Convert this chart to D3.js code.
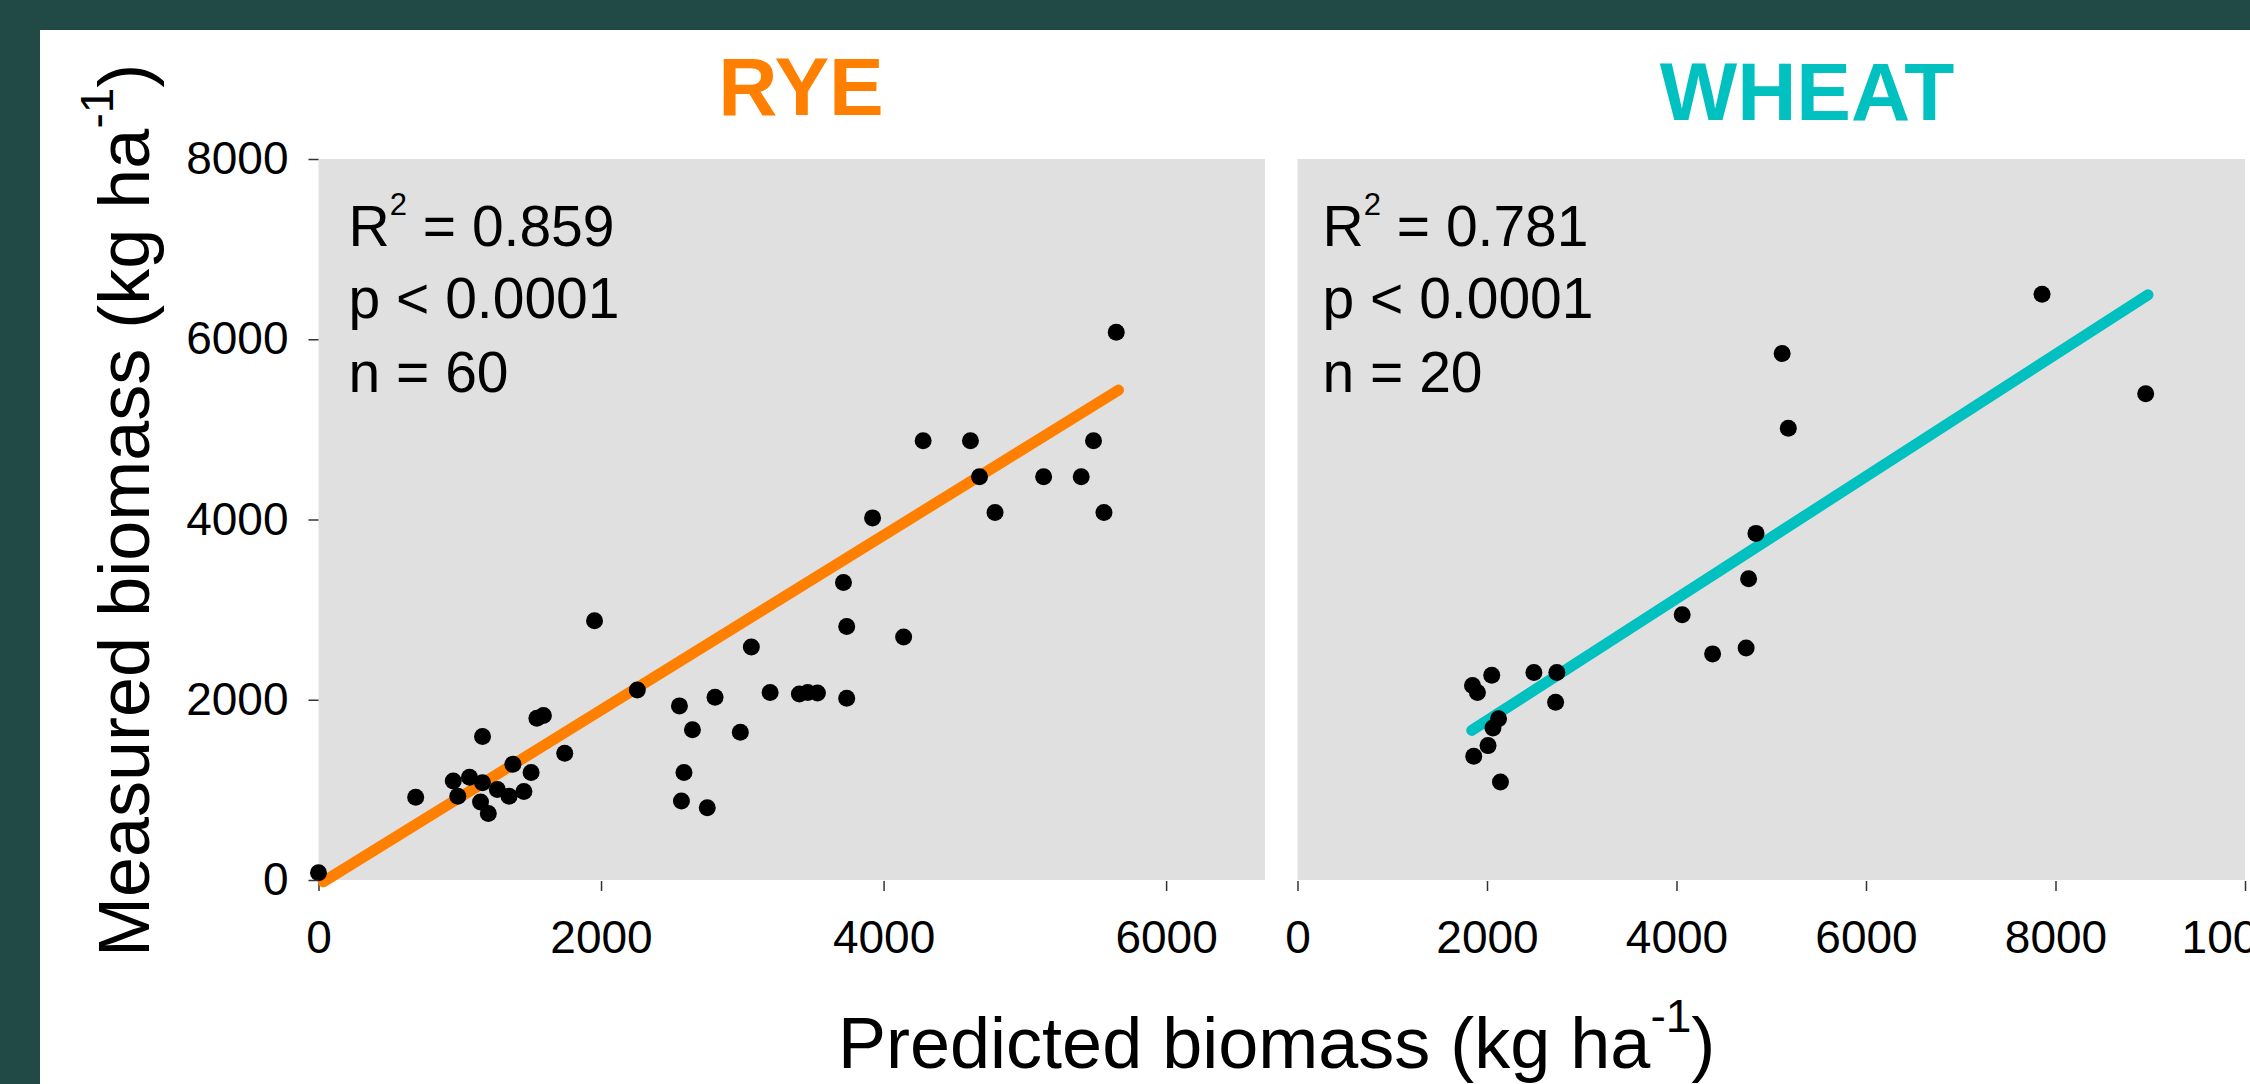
<!DOCTYPE html>
<html>
<head>
<meta charset="utf-8">
<script src="https://cdn.jsdelivr.net/npm/d3@7"></script>
<style>
  body { margin: 0; background: #214a47; }
  text { font-family: "Liberation Sans", Arial, sans-serif; }
</style>
</head>
<body>
<div id="chart"></div>
<script>
// data
const RYE_X = [0, 688, 954, 986, 1069, 1161, 1161, 1147, 1202, 1266, 1349, 1376, 1454, 1505, 1546, 1592,
  1743, 1954, 2257, 2555, 2647, 2587, 2569, 2752, 2807, 2986, 3064, 3197, 3404, 3463, 3532, 3716,
  3739, 3739, 3922, 4142, 4280, 4615, 4679, 4789, 5133, 5399, 5486, 5560, 5647];
const RYE_Y = [80, 918, 1099, 929, 1141, 1593, 1078, 865, 738, 1003, 929, 1285, 982, 1194, 1794, 1826,
  1407, 2877, 2107, 1932, 1667, 1194, 876, 802, 2028, 1640, 2585, 2081, 2065, 2081, 2076, 3302,
  2813, 2017, 4018, 2697, 4873, 4873, 4475, 4077, 4475, 4475, 4873, 4077, 6078];
const WHEAT_X = [7858, 5115, 5180, 8952, 4839, 4761, 4060, 4381, 4735, 2050, 2495, 2737, 2724, 1847,
  1899, 2122, 2063, 2011, 1860, 2142];
const WHEAT_Y = [6499, 5841, 5013, 5395, 3846, 3342, 2944, 2509, 2573, 2271, 2302, 2302, 1973, 2159,
  2080, 1788, 1687, 1491, 1374, 1088];

// regression line end points [x, y]
const RYE_FIT = [[34, -20], [5663, 5436]];
const WHEAT_FIT = [[1839, 1660], [8976, 6493]];

const RYE_STATS = ["0.859", "p < 0.0001", "n = 60"];
const WHEAT_STATS = ["0.781", "p < 0.0001", "n = 20"];

const Y_TICKS = [0, 2000, 4000, 6000, 8000];
const RYE_X_TICKS = [0, 2000, 4000, 6000];
const WHEAT_X_TICKS = [0, 2000, 4000, 6000, 8000, 10000];

const WIDTH = 2250, HEIGHT = 1084;
const TOP = 159, BOTTOM = 880;

const svg = d3.select("#chart").append("svg")
  .attr("width", WIDTH).attr("height", HEIGHT);

svg.append("rect").attr("width", WIDTH).attr("height", HEIGHT).attr("fill", "#214a47");
svg.append("rect").attr("x", 40).attr("y", 30)
  .attr("width", WIDTH - 40).attr("height", HEIGHT - 30).attr("fill", "#ffffff");

const Y_SCALE = d3.scaleLinear().domain([0, 8000]).range([BOTTOM, TOP]);

function drawPanel(opts) {
  const X_SCALE = d3.scaleLinear().domain(opts.domain).range(opts.range);
  const g = svg.append("g");

  // grey plot area
  g.append("rect")
    .attr("x", opts.range[0]).attr("y", TOP)
    .attr("width", opts.range[1] - opts.range[0]).attr("height", BOTTOM - TOP)
    .attr("fill", "#e0e0e0");

  // x axis
  const xa = g.append("g")
    .attr("transform", "translate(0," + (BOTTOM + 1) + ")")
    .call(d3.axisBottom(X_SCALE).tickValues(opts.xticks).tickSize(10).tickPadding(29)
      .tickFormat(d3.format("d")));
  xa.select(".domain").remove();
  xa.selectAll("line").attr("stroke", "#333").attr("stroke-width", 1.5);
  xa.selectAll("text").attr("font-size", "46px").attr("fill", "#000")
    .style("font-family", "'Liberation Sans', Arial, sans-serif");

  // regression line
  g.append("line")
    .attr("x1", X_SCALE(opts.fit[0][0])).attr("y1", Y_SCALE(opts.fit[0][1]))
    .attr("x2", X_SCALE(opts.fit[1][0])).attr("y2", Y_SCALE(opts.fit[1][1]))
    .attr("stroke", opts.color).attr("stroke-width", 11).attr("stroke-linecap", "round");

  // points
  g.selectAll("circle")
    .data(opts.xs.map((x, i) => ({x: x, y: opts.ys[i]})))
    .enter()
    .append("circle")
      .attr("cx", (d) => X_SCALE(d.x))
      .attr("cy", (d) => Y_SCALE(d.y))
      .attr("r", 8.5)
      .attr("fill", "#000");

  // stats text
  const tx = opts.range[0] + opts.textOffset;
  const t1 = g.append("text").attr("x", tx).attr("y", 246).attr("font-size", "57px");
  t1.append("tspan").text("R");
  t1.append("tspan").attr("font-size", "31px").attr("dy", -31).text("2");
  t1.append("tspan").attr("dy", 31).text(" = " + opts.stats[0]);
  g.append("text").attr("x", tx).attr("y", 318).attr("font-size", "57px").text(opts.stats[1]);
  g.append("text").attr("x", tx).attr("y", 392).attr("font-size", "57px").text(opts.stats[2]);

  // title
  g.append("text")
    .attr("x", opts.titleX).attr("y", opts.titleY)
    .attr("text-anchor", "middle")
    .attr("font-size", "82px").attr("font-weight", "bold")
    .attr("fill", opts.color)
    .text(opts.title);

  return X_SCALE;
}

drawPanel({
  domain: [0, 6700], range: [318.5, 1265], xticks: RYE_X_TICKS,
  xs: RYE_X, ys: RYE_Y, fit: RYE_FIT, color: "#ff8000",
  stats: RYE_STATS, textOffset: 30, title: "RYE", titleX: 801, titleY: 115
});

drawPanel({
  domain: [0, 10000], range: [1297.5, 2245], xticks: WHEAT_X_TICKS,
  xs: WHEAT_X, ys: WHEAT_Y, fit: WHEAT_FIT, color: "#00c0c0",
  stats: WHEAT_STATS, textOffset: 25, title: "WHEAT", titleX: 1807, titleY: 120
});

// y axis on the rye panel only
const ya = svg.append("g")
  .attr("transform", "translate(318.5,0)")
  .call(d3.axisLeft(Y_SCALE).tickValues(Y_TICKS).tickSize(10).tickPadding(20)
    .tickFormat(d3.format("d")));
ya.select(".domain").remove();
ya.selectAll("line").attr("stroke", "#333").attr("stroke-width", 1.5);
ya.selectAll("text").attr("font-size", "46px").attr("fill", "#000")
  .style("font-family", "'Liberation Sans', Arial, sans-serif");

// axis titles
const yt = svg.append("text")
  .attr("transform", "translate(149,957) rotate(-90)")
  .attr("font-size", "72px");
yt.append("tspan").text("Measured biomass (kg ha");
yt.append("tspan").attr("font-size", "46px").attr("dy", -36).text("-1");
yt.append("tspan").attr("dy", 36).text(")");

const xt = svg.append("text")
  .attr("x", 838).attr("y", 1068)
  .attr("font-size", "72px");
xt.append("tspan").text("Predicted biomass (kg ha");
xt.append("tspan").attr("font-size", "46px").attr("dy", -36).text("-1");
xt.append("tspan").attr("dy", 36).text(")");
</script>
</body>
</html>
